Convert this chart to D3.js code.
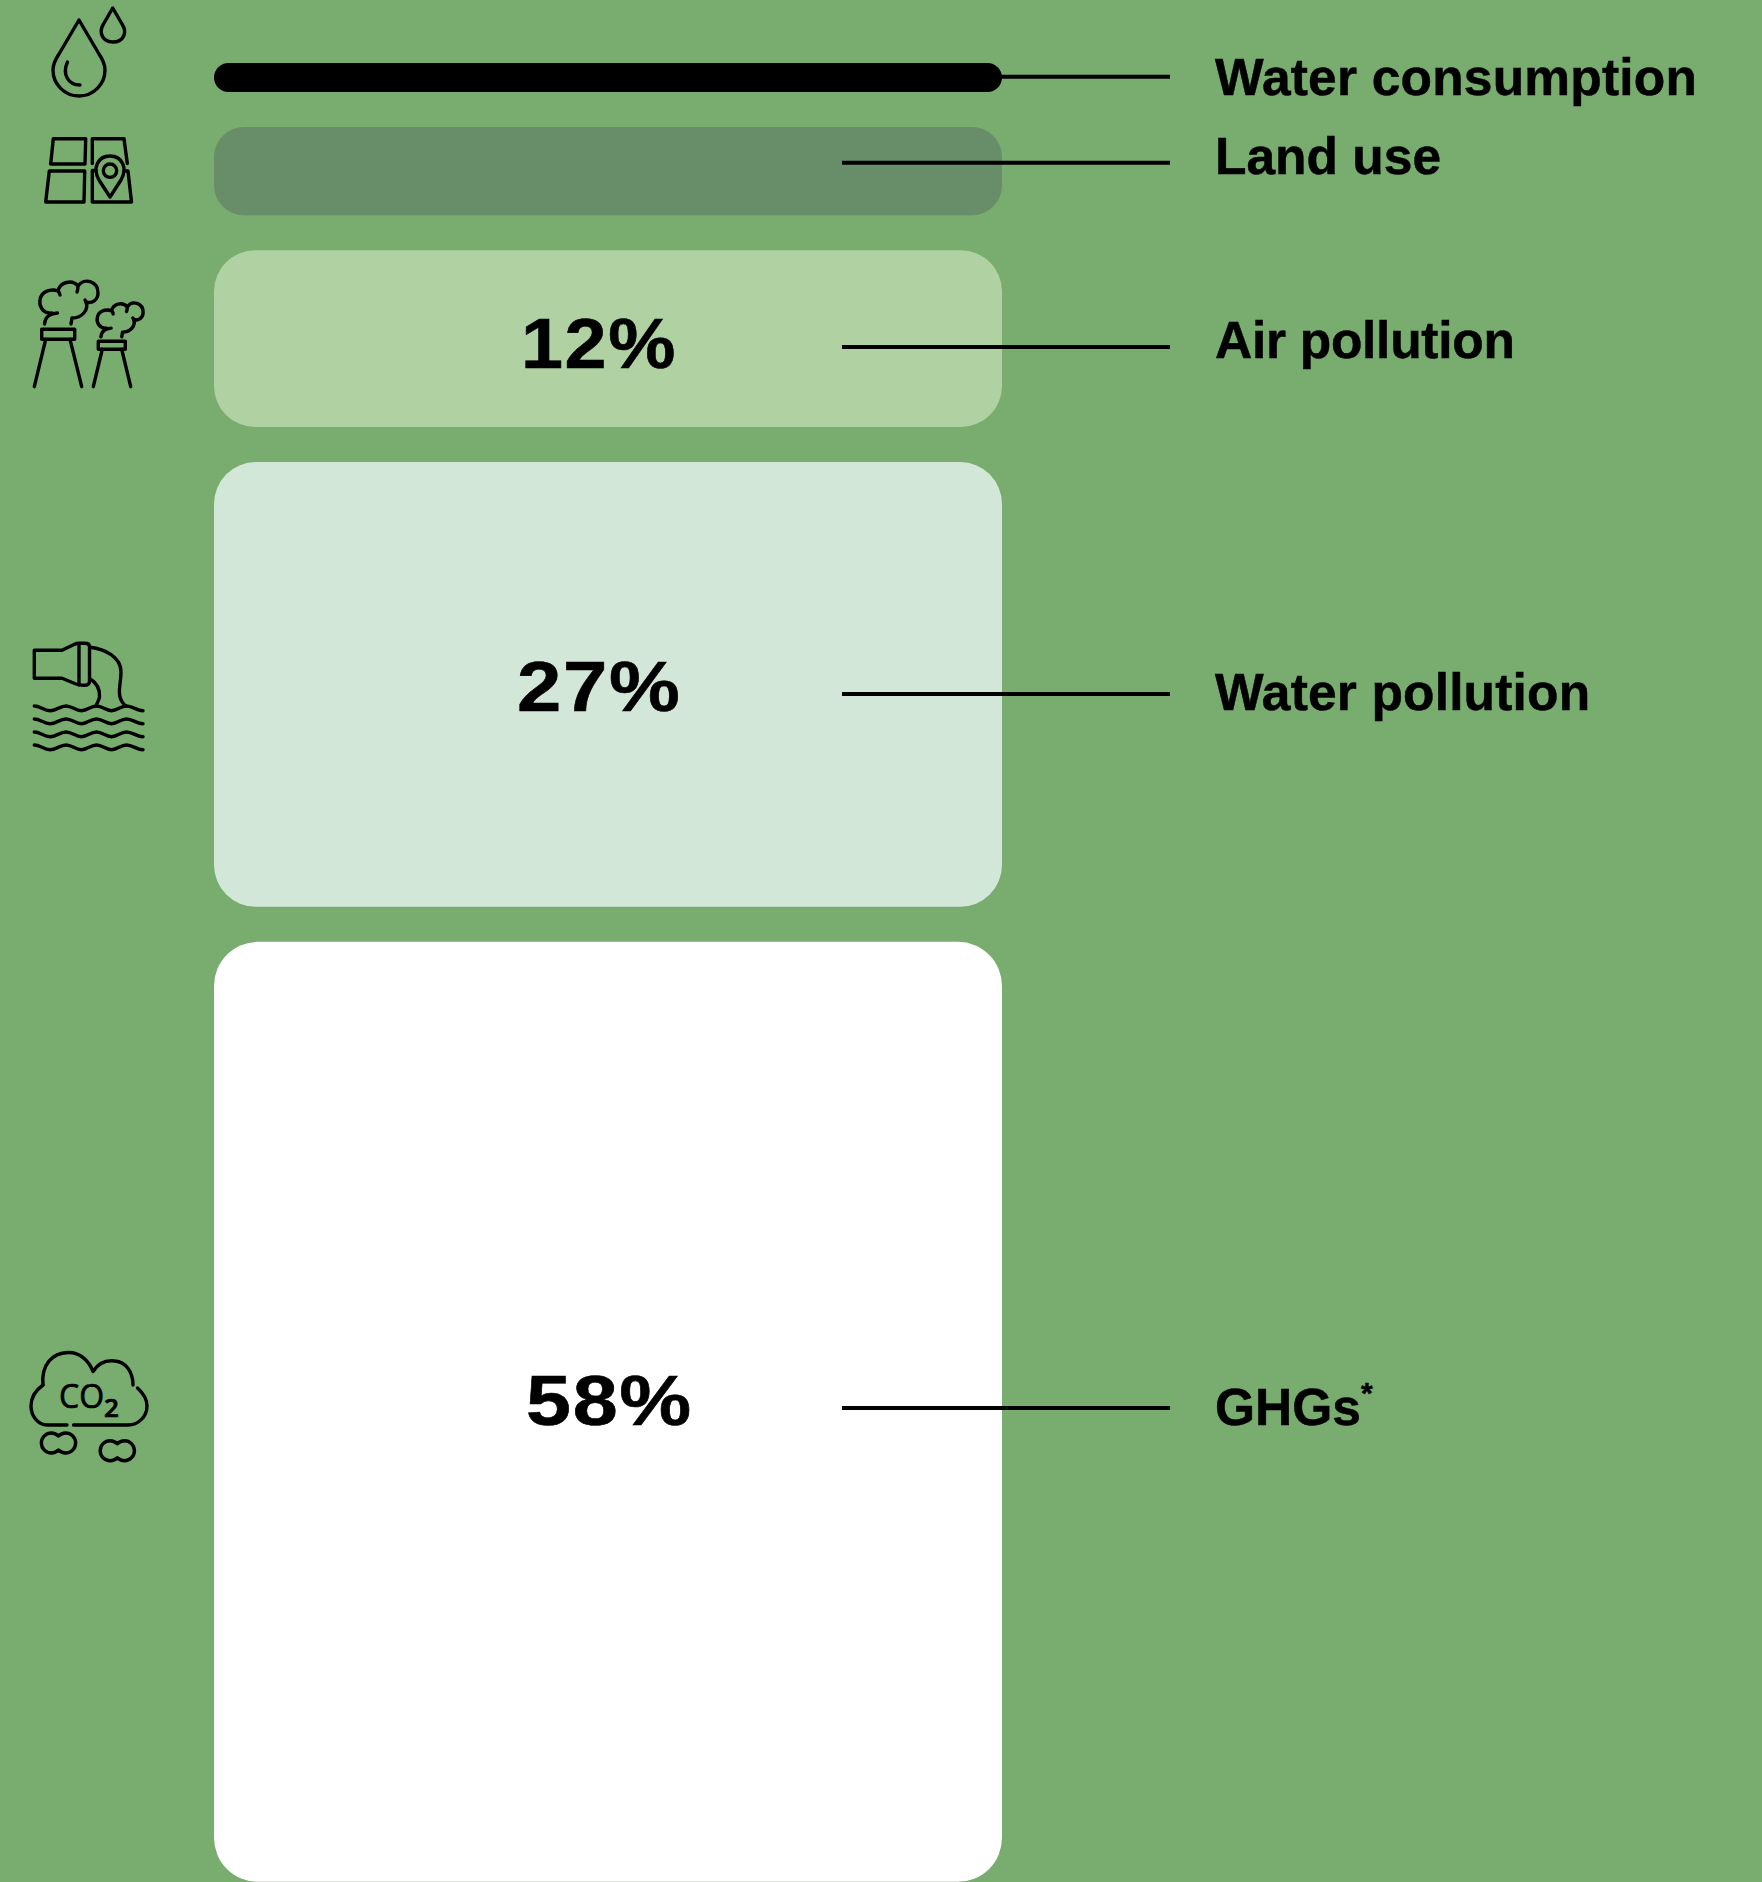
<!DOCTYPE html>
<html lang="en">
<head>
<meta charset="utf-8">
<title>Environmental impact shares</title>
<style>
html, body{
  margin: 0;
  padding: 0;
  background: #78ad6f;
}
svg{
  display: block;
}
.label{
  font: bold 51.5px "Liberation Sans", sans-serif;
  fill: #000;
  stroke: #000;
  stroke-width: 0.5;
}
.pct{
  font: bold 71px "Liberation Sans", sans-serif;
  letter-spacing: 1.5px;
  fill: #000;
  stroke: #000;
  stroke-width: 0.6;
}
.icon path, .icon circle{
  fill: none;
  stroke: #000;
  stroke-width: 3.4;
  stroke-linecap: round;
  stroke-linejoin: round;
  vector-effect: non-scaling-stroke;
}
.icon text{
  font-family: "Open Sans", sans-serif;
  fill: #000;
  stroke: #000;
  stroke-width: 0.7;
}
</style>
</head>
<body>
<div id="chart"></div>
<script src="https://d3js.org/d3.v7.min.js"></script>
<script>
  // Values, top to bottom
  const categories = ["Water consumption", "Land use", "Air pollution", "Water pollution", "GHGs"];
  const barSizes = [1.79, 5.45, 10.9, 27.45, 58];
  const pctLabels = ["", "", "12%", "27%", "58%"];
  const barColors = ["#000000", "#688d69", "#b0d2a2", "#d3e7d8", "#ffffff"];

  const width = 1762;
  const height = 1882;
  const barLeft = 214;
  const barRight = 1002;
  const barTop = 63;
  const gap = 35;
  const barRadius = [14.5, 30, 41, 42, 44];

  // Leader lines and captions don't sit on the bar centres in the original
  const leaderY = [76.7, 162.7, 347, 694, 1408];
  const captionY = [95, 174, 358, 710, 1425];
  const captionSpacing = [0.2, 0, -0.28, 0.16, 0];
  const pctX = [0, 0, 521, 517, 526];
  const pctY = [0, 0, 367.5, 711, 1425];
  // The original digits are wider than Liberation, so stretch a bit
  const pctStretch = [1, 1, 1.064, 1.122, 1.139];

  const svg = d3.select("#chart")
    .append("svg")
    .attr("width", width)
    .attr("height", height)
    .style("background", "#78ad6f");

  const h = d3.scaleLinear().domain([0, 58]).range([0, 940]);

  // Stack the bars from the top
  let cursor = barTop;
  const bars = barSizes.map((v, i) => {
    const b = { i, y: cursor, h: h(v) };
    cursor += b.h + gap;
    return b;
  });

  svg.selectAll("rect.bar")
    .data(bars)
    .enter()
    .append("rect")
    .attr("class", "bar")
    .attr("x", barLeft)
    .attr("y", d => d.y)
    .attr("width", barRight - barLeft)
    .attr("height", d => d.h)
    .attr("rx", d => barRadius[d.i])
    .attr("fill", d => barColors[d.i]);

  svg.selectAll("line.leader")
    .data(categories)
    .enter()
    .append("line")
    .attr("class", "leader")
    .attr("x1", (d, i) => i === 0 ? barRight - 10 : 842)
    .attr("x2", 1170)
    .attr("y1", (d, i) => leaderY[i])
    .attr("y2", (d, i) => leaderY[i])
    .attr("stroke", "#000")
    .attr("stroke-width", 4);

  const captions = svg.selectAll("text.label")
    .data(categories)
    .enter()
    .append("text")
    .attr("class", "label")
    .attr("x", 1215)
    .attr("y", (d, i) => captionY[i])
    .style("letter-spacing", (d, i) => captionSpacing[i] + "px")
    .text(d => d);

  // GHGs carries a footnote mark
  captions.filter(d => d === "GHGs")
    .append("tspan")
    .attr("dy", -22)
    .style("font-size", "30px")
    .text("*");

  svg.selectAll("text.pct")
    .data(pctLabels.map((t, i) => ({ t, i })).filter(d => d.t !== ""))
    .enter()
    .append("text")
    .attr("class", "pct")
    .attr("transform", d => `translate(${pctX[d.i]},${pctY[d.i]}) scale(${pctStretch[d.i]},1)`)
    .text(d => d.t);

  // Icons, traced by hand
  const icons = svg.append("g").attr("class", "icon");
  const addPath = (d, tr) => {
    const p = icons.append("path").attr("d", d);
    if (tr) p.attr("transform", tr);
  };

  // drops
  addPath("M79 20 L59 54 C55 60 53 65 53 70 A26 26 0 0 0 105 70 C105 65 103 60 99 54 Z");
  addPath("M67.5 62 C62 74 68 85 80 85");
  addPath("M112.7 8 L103.5 24 C98 33 103 42 113 42 C123 42 128 33 122 24 Z");

  // land parcels and pin
  addPath("M53.3 138.7 H85.7 L85 164 H50.7 Z");
  addPath("M49.3 171 H84.7 L84 202 H45.7 Z");
  addPath("M92.3 163.5 V138.7 H124 L127.3 163.5");
  addPath("M96 170.5 H92.3 V202 H131.5 L128 171 H124");
  addPath("M110 197 L99 180 C92 168 98 156 110 156 C122 156 128 168 121 180 Z");
  icons.append("circle").attr("cx", 110).attr("cy", 170.7).attr("r", 6.7);

  // factory stacks and smoke
  const smoke = [
    "M44.5 324 C45 318 48 314 57.5 313",
    "M52 313 C42 314 39 305 40 300 C41 292 50 288 58 291 C60 282 72 279 78 286 C84 277 98 281 98 293 C98 300 92 304 86 302 C89 310 82 318 72 318 L71 324",
    "M58 291 C59 292 60 293 60 295",
    "M78 286 C78 288 78 290 77 292",
    "M86 302 L85 300"
  ];
  smoke.forEach(d => addPath(d));
  smoke.forEach(d => addPath(d, "translate(65.7,80.9) scale(0.79)"));
  addPath("M41.7 329.3 H74.7 V339.3 H41.7 Z");
  addPath("M45.7 339.3 L34.3 386.7 M70 339.3 L81.7 386.7");
  addPath("M98.3 341.3 H125.3 V349.3 H98.3 Z");
  addPath("M102.3 349.3 L93.3 386.7 M121.7 349.3 L130.7 386.7");

  // outflow pipe over water
  addPath("M62 650.3 H34.3 V678.3 H62 L76 684 Q80 685.3 84 685.3 Q89.5 685.3 89.5 681 V647 Q89.5 643.3 85 643.3 H80 Q76 643.3 74 644.5 Z");
  addPath("M79 643.5 V685");
  addPath("M90 647.3 C105 649 121 657 121 672 C121 682 118 690 120 697 C121 701 124 705 126 706");
  addPath("M90 678.7 C97 683 100 690 99.5 697 C99 700 97 703 96 706");
  [0, 13, 26, 39].forEach(dy => {
    addPath("M34.3 706 C40 706 44 710.7 50 710.7 C56 710.7 60 706 66 706 C72 706 75.5 710.7 81.5 710.7 C87.5 710.7 90.5 706 96.5 706 C102.5 706 105.5 710.7 111.5 710.7 C117.5 710.7 120.5 706 126.5 706 C132.5 706 137 710.7 143 710.7",
      `translate(0,${dy})`);
  });

  // CO2 cloud
  addPath("M43 1385 C41 1365 52 1353 68 1352.5 C80 1352 89 1361 93 1371.5 C99 1362 107 1360 115 1361 C126 1362 133 1372 133 1385");
  addPath("M137.5 1388 C143 1393 147 1400 147 1406 C147 1417 138 1425 128 1425 H73.5");
  addPath("M67 1425 H47 C38 1425 31 1416 31 1406 C31 1397 36 1390 43 1385");
  addPath("M58.5 1436 A10 10 0 1 0 58.5 1450 A10 10 0 1 0 58.5 1436 Z");
  addPath("M58.5 1436 A10 10 0 1 0 58.5 1450 A10 10 0 1 0 58.5 1436 Z", "translate(58.8,7.7)");
  icons.append("text").attr("x", 59).attr("y", 1407.5).style("font-size", "32px").text("CO");
  icons.append("text").attr("x", 104).attr("y", 1417).style("font-size", "26px").style("font-weight", "600").text("2");
</script>
</body>
</html>
